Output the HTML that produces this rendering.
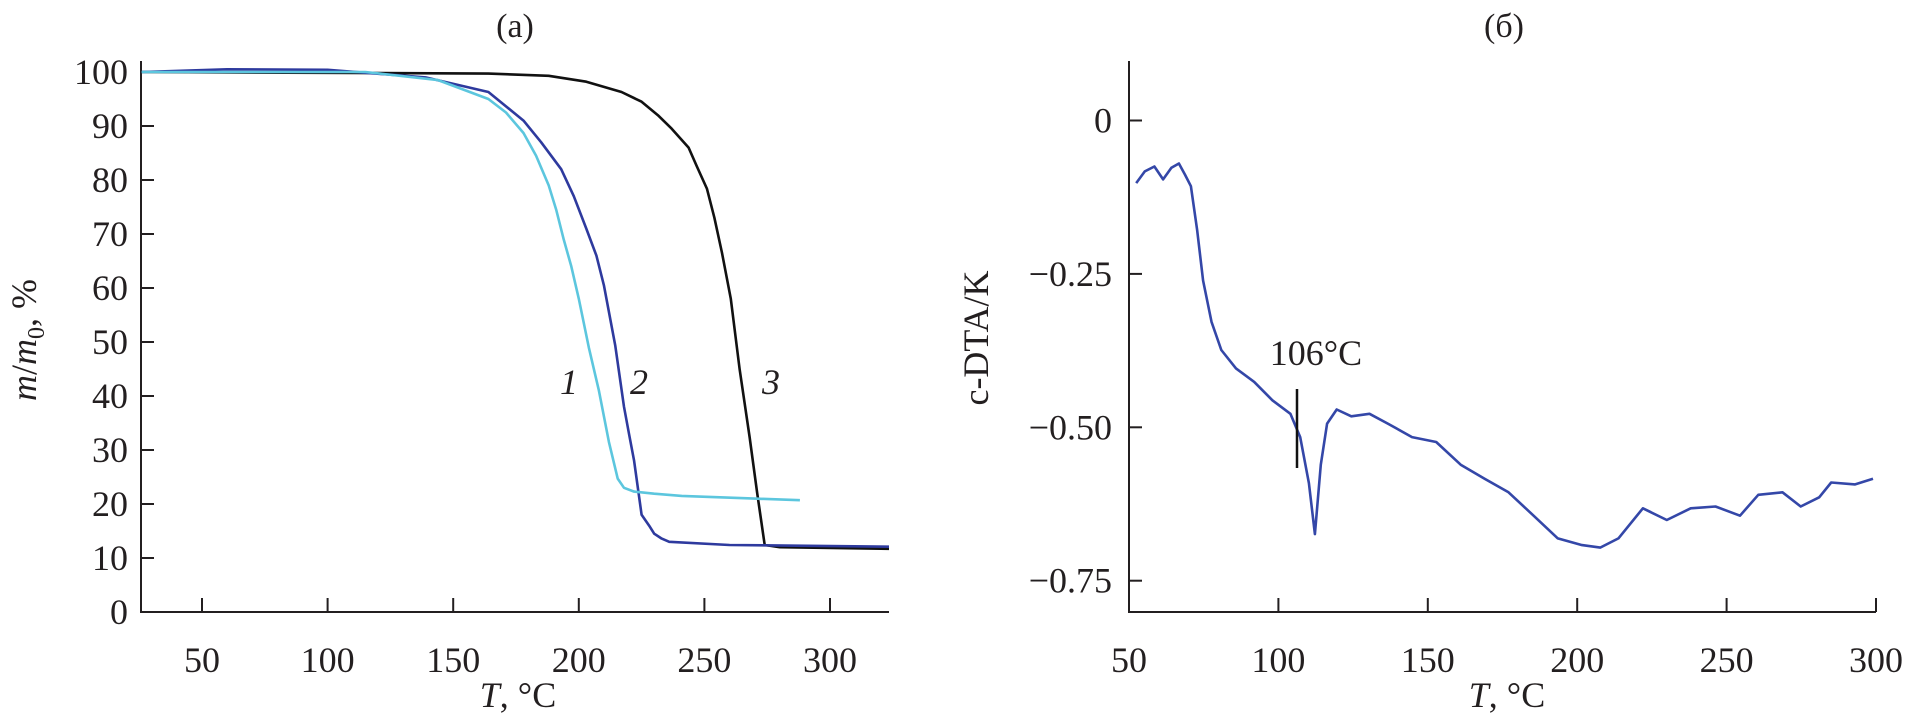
<!DOCTYPE html>
<html><head><meta charset="utf-8"><style>
body{margin:0;background:#fff}
svg{display:block}
text{font-family:"Liberation Serif",serif;fill:#231f20}
</style></head><body>
<svg id="c" width="1910" height="721" viewBox="0 0 1910 721" xmlns="http://www.w3.org/2000/svg">
<g id="left"></g>
<g id="right"></g>
</svg>
<script>
// Left panel data
const leftXTicks=[50,100,150,200,250,300];
const leftYTicks=[0,10,20,30,40,50,60,70,80,90,100];
const c1T=[26,115,144,164,171,178,183,188,191,194,197,200,204,208,212,215.5,218,222,230,241,270,288];
const c1V=[100,100,98.5,95,92.5,88.7,84.5,79,74.5,69,64,58,49,41,31.5,24.7,23,22.3,21.9,21.5,21,20.7];
const c2T=[26,60,100,139,164,178,185,193,198,203,207,210,214.5,218,220,222,225,228,230,233,236,260,323.5];
const c2V=[100,100.5,100.4,99,96.3,91,87,82,77,71,66,60.5,49.4,38,33,28,18,16,14.5,13.6,13,12.4,12.1];
const c3T=[26,164,188,203,217,225,231.5,237,243.7,247,251,254,257,260.5,264,268,271,274,280,323.5];
const c3V=[100,99.7,99.3,98.2,96.3,94.5,92,89.5,86,82.5,78.4,73,66.5,58,45,32.4,22,12.4,12,11.7];
// Right panel data
const rightXTicks=[50,100,150,200,250,300];
const rightYTicks=[0,-0.25,-0.5,-0.75];
const rightYLabels=["0","\u22120.25","\u22120.50","\u22120.75"];
const dtaT=[52.4,55.3,58.5,61.4,64.2,66.7,68.7,70.7,72.8,74.8,77.6,80.9,85.8,91.9,98,104,107.3,110.2,112.2,114.2,116.3,119.5,124.4,130.5,136.6,144.7,152.8,161,169,177,185.4,193.5,201.6,207.7,213.8,222,230,238,246.3,254.5,260.6,268.7,274.8,281,285,293,299];
const dtaV=[-0.102,-0.083,-0.075,-0.096,-0.077,-0.07,-0.088,-0.107,-0.178,-0.261,-0.328,-0.374,-0.404,-0.426,-0.456,-0.478,-0.516,-0.591,-0.674,-0.561,-0.494,-0.471,-0.482,-0.478,-0.494,-0.516,-0.524,-0.561,-0.584,-0.606,-0.644,-0.681,-0.692,-0.696,-0.681,-0.632,-0.651,-0.632,-0.629,-0.644,-0.61,-0.606,-0.629,-0.614,-0.59,-0.593,-0.584];

const NS="http://www.w3.org/2000/svg";
function mk(parent,tag,attrs,txt){const e=document.createElementNS(NS,tag);for(const k in attrs)e.setAttribute(k,attrs[k]);if(txt!==undefined)e.textContent=txt;parent.appendChild(e);return e;}
const L=document.getElementById('left'),R=document.getElementById('right');
const lx=t=>202+(t-50)*2.512, ly=v=>612-v*5.4;
const rx=t=>1129+(t-50)*2.988, ry=v=>120.5-v*613.6;
const AX="#231f20";

// Left axes
let e=mk(L,'line',{x1:141,y1:61,x2:141,y2:613,stroke:AX,'stroke-width':2});

e=mk(L,'line',{x1:140,y1:612,x2:889,y2:612,stroke:AX,'stroke-width':2});

leftYTicks.forEach(v=>{
 let t=mk(L,'line',{x1:141,y1:ly(v),x2:154,y2:ly(v),stroke:AX,'stroke-width':2});
 
 let s=mk(L,'text',{x:128,y:ly(v)+12,'text-anchor':'end','font-size':36},String(v));
 
});
leftXTicks.forEach(v=>{
 let t=mk(L,'line',{x1:lx(v),y1:612,x2:lx(v),y2:598,stroke:AX,'stroke-width':2});
 
 let s=mk(L,'text',{x:lx(v),y:672,'text-anchor':'middle','font-size':36},String(v));
 
});
function poly(g,T,V,fx,fy,col,name){const p=mk(g,'polyline',{points:T.map((t,i)=>fx(t).toFixed(1)+','+fy(V[i]).toFixed(1)).join(' '),fill:'none',stroke:col,'stroke-width':2.6,'stroke-linejoin':'round'});
 }
poly(L,c3T,c3V,lx,ly,'#111','curve-3');
poly(L,c2T,c2V,lx,ly,'#2e3a9e','curve-2');
poly(L,c1T,c1V,lx,ly,'#5cc6de','curve-1');
[['1',569],['2',639],['3',771]].forEach(([s,x])=>{let t=mk(L,'text',{x:x,y:394,'text-anchor':'middle','font-size':36,'font-style':'italic'},s);
 });
e=mk(L,'text',{x:515,y:37,'text-anchor':'middle','font-size':34},'(a)');

e=mk(L,'text',{x:518,y:707,'text-anchor':'middle','font-size':36},'');

e.innerHTML='<tspan font-style="italic">T</tspan>, °C';
e=mk(L,'text',{x:0,y:0,'text-anchor':'middle','font-size':36,transform:'translate(36,340) rotate(-90)'},'');

e.innerHTML='<tspan font-style="italic">m</tspan>/<tspan font-style="italic">m</tspan><tspan font-size="24" dy="8">0</tspan><tspan dy="-8">, %</tspan>';

// Right axes
e=mk(R,'line',{x1:1129,y1:61,x2:1129,y2:613,stroke:AX,'stroke-width':2});

e=mk(R,'line',{x1:1128,y1:612,x2:1876,y2:612,stroke:AX,'stroke-width':2});

rightYTicks.forEach((v,i)=>{
 let t=mk(R,'line',{x1:1129,y1:ry(v),x2:1142,y2:ry(v),stroke:AX,'stroke-width':2});
 
 let s=mk(R,'text',{x:1112,y:ry(v)+12,'text-anchor':'end','font-size':36},rightYLabels[i]);
 
});
rightXTicks.forEach(v=>{
 let t=mk(R,'line',{x1:rx(v),y1:612,x2:rx(v),y2:598,stroke:AX,'stroke-width':2});
 
 let s=mk(R,'text',{x:rx(v),y:672,'text-anchor':'middle','font-size':36},String(v));
 
});
poly(R,dtaT,dtaV,rx,ry,'#3447a8','dta-curve');
e=mk(R,'line',{x1:1297,y1:389,x2:1297,y2:468,stroke:'#111','stroke-width':2.5});

e=mk(R,'text',{x:1316,y:365,'text-anchor':'middle','font-size':36},'106°C');

e=mk(R,'text',{x:1504,y:37,'text-anchor':'middle','font-size':34},'(б)');

e=mk(R,'text',{x:1507,y:707,'text-anchor':'middle','font-size':36},'');

e.innerHTML='<tspan font-style="italic">T</tspan>, °C';
e=mk(R,'text',{x:0,y:0,'text-anchor':'middle','font-size':36,transform:'translate(988,338) rotate(-90)'},'c-DTA/K');

</script>
</body></html>
